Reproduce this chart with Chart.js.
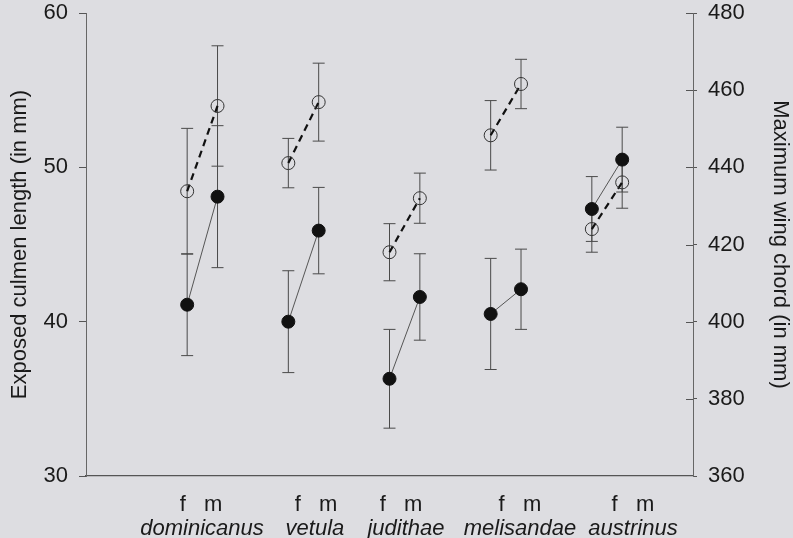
<!DOCTYPE html>
<html>
<head>
<meta charset="utf-8">
<title>Culmen length and wing chord by sex</title>
<script src="https://cdn.jsdelivr.net/npm/chart.js@4.4.1/dist/chart.umd.min.js"></script>
<style>
  html, body { margin: 0; padding: 0; background: #dddde1; }
  #wrap { width: 793px; height: 538px; }
</style>
</head>
<body>
<div id="wrap"><canvas id="sexChart" width="793" height="538"></canvas></div>
<script>
const species = ['dominicanus', 'vetula', 'judithae', 'melisandae', 'austrinus'];
const sexLabel = 'f   m';

// exposed culmen length (mm), filled circles, left axis
const culmenF = [41.1, 40.0, 36.3, 40.5, 47.3];
const culmenM = [48.1, 45.9, 41.6, 42.1, 50.5];
const culmenSdF = [3.3, 3.3, 3.2, 3.6, 2.1];
const culmenSdM = [4.6, 2.8, 2.8, 2.6, 2.1];

// maximum wing chord (mm), open circles, right axis
const wingF = [433.8, 441.1, 418.0, 448.3, 424.0];
const wingM = [455.9, 456.9, 432.0, 461.6, 436.1];
const wingSdF = [16.3, 6.4, 7.4, 9.0, 6.0];
const wingSdM = [15.6, 10.1, 6.5, 6.4, 6.7];

const leftTicks = [30, 40, 50, 60];
const rightTicks = [360, 380, 400, 420, 440, 460, 480];

// where the two rows of category labels sit on the x scale
const sexLabelAt = [1.137, 2.274, 3.114, 4.29, 5.407];
const speciesLabelAt = [1.147, 2.263, 3.163, 4.29, 5.407];

const FONT = "'Liberation Sans', Arial, Helvetica, sans-serif";
const INK = '#1a1a1a';

function buildPoints(fVals, mVals, fSd, mSd) {
  const pts = [];
  species.forEach((s, i) => {
    pts.push({ x: i + 1, y: fVals[i], sd: fSd[i] });
    pts.push({ x: i + 1.3, y: mVals[i], sd: mSd[i] });
    pts.push({ x: i + 1.65, y: null }); // break the line between species
  });
  return pts;
}

const errorBars = {
  id: 'errorBars',
  beforeDatasetsDraw(chart) {
    const ctx = chart.ctx;
    ctx.save();
    ctx.strokeStyle = '#4a4a4a';
    ctx.lineWidth = 1;
    chart.data.datasets.forEach((ds, di) => {
      const meta = chart.getDatasetMeta(di);
      const yScale = chart.scales[ds.yAxisID];
      ds.data.forEach((p, j) => {
        if (p.y == null) return;
        const x = meta.data[j].x;
        const top = yScale.getPixelForValue(p.y + p.sd);
        const bot = yScale.getPixelForValue(p.y - p.sd);
        ctx.beginPath();
        ctx.moveTo(x, top); ctx.lineTo(x, bot);
        ctx.moveTo(x - 6, top); ctx.lineTo(x + 6, top);
        ctx.moveTo(x - 6, bot); ctx.lineTo(x + 6, bot);
        ctx.stroke();
      });
    });
    ctx.restore();
  }
};

// right axis ticks cross the axis line, draw the inner half
const innerTicks = {
  id: 'innerTicks',
  afterDraw(chart) {
    const s = chart.scales.y1;
    const ctx = chart.ctx;
    ctx.save();
    ctx.strokeStyle = '#555';
    ctx.lineWidth = 1;
    rightTicks.slice(1).forEach(v => {
      const py = Math.round(s.getPixelForValue(v)) + 0.5;
      ctx.beginPath();
      ctx.moveTo(s.left - 7, py);
      ctx.lineTo(s.left, py);
      ctx.stroke();
    });
    ctx.restore();
  }
};

// keep the plot area tight to the top edge like the original figure
function fitVertical(width) {
  return s => {
    s.width = width;
    s.paddingTop = 13;
    s.paddingBottom = 13;
  };
}

const ctx = document.getElementById('sexChart').getContext('2d');
new Chart(ctx, {
  type: 'line',
  data: {
    datasets: [{
      label: 'Exposed culmen length',
      data: buildPoints(culmenF, culmenM, culmenSdF, culmenSdM),
      yAxisID: 'y',
      borderColor: '#555',
      borderWidth: 1,
      pointRadius: 6.5,
      pointBackgroundColor: '#111',
      pointBorderColor: '#111',
      pointBorderWidth: 1
    }, {
      label: 'Maximum wing chord',
      data: buildPoints(wingF, wingM, wingSdF, wingSdM),
      yAxisID: 'y1',
      borderColor: '#111',
      borderWidth: 2.2,
      borderDash: [7, 5],
      pointRadius: 6.5,
      pointBackgroundColor: 'rgba(0,0,0,0)',
      pointBorderColor: '#333',
      pointBorderWidth: 1
    }]
  },
  options: {
    responsive: false,
    animation: false,
    layout: { padding: 0 },
    plugins: {
      legend: { display: false },
      tooltip: { enabled: false }
    },
    scales: {
      x: {
        type: 'linear',
        position: 'bottom',
        weight: 1,
        min: 0,
        max: 6,
        afterBuildTicks: s => { s.ticks = sexLabelAt.map(v => ({ value: v })); },
        afterFit: s => { s.height = 40; },
        ticks: {
          callback: () => sexLabel,
          autoSkip: false,
          maxRotation: 0,
          padding: 16,
          color: INK,
          font: { size: 22, family: FONT }
        },
        grid: { display: false, drawTicks: false },
        border: { display: true, color: '#555', width: 1.2 }
      },
      x2: {
        type: 'linear',
        position: 'bottom',
        weight: 2,
        min: 0,
        max: 6,
        afterBuildTicks: s => { s.ticks = speciesLabelAt.map(v => ({ value: v })); },
        afterFit: s => { s.height = 22; },
        ticks: {
          callback: (value, index) => species[index],
          autoSkip: false,
          maxRotation: 0,
          padding: 0,
          color: INK,
          font: { size: 22, style: 'italic', family: FONT }
        },
        grid: { display: false, drawTicks: false },
        border: { display: false }
      },
      y: {
        position: 'left',
        min: 30,
        max: 60,
        afterBuildTicks: s => { s.ticks = leftTicks.map(v => ({ value: v })); },
        afterFit: fitVertical(86),
        ticks: {
          padding: 11,
          color: INK,
          font: { size: 22, family: FONT }
        },
        grid: { drawOnChartArea: false, drawTicks: true, tickLength: 7, color: '#555' },
        border: { display: true, color: '#666', width: 1 },
        title: {
          display: true,
          text: 'Exposed culmen length (in mm)',
          color: INK,
          font: { size: 22, family: FONT },
          padding: { top: 7, bottom: 0 }
        }
      },
      y1: {
        position: 'right',
        min: 360,
        max: 480,
        afterBuildTicks: s => { s.ticks = rightTicks.map(v => ({ value: v })); },
        afterFit: fitVertical(100),
        ticks: {
          padding: 11,
          color: INK,
          font: { size: 22, family: FONT }
        },
        grid: { drawOnChartArea: false, drawTicks: true, tickLength: 4, color: '#555' },
        border: { display: true, color: '#666', width: 1 },
        title: {
          display: true,
          text: 'Maximum wing chord (in mm)',
          color: INK,
          font: { size: 22, family: FONT },
          padding: { top: 0, bottom: 0 }
        }
      }
    }
  },
  plugins: [errorBars, innerTicks]
});
</script>
</body>
</html>
